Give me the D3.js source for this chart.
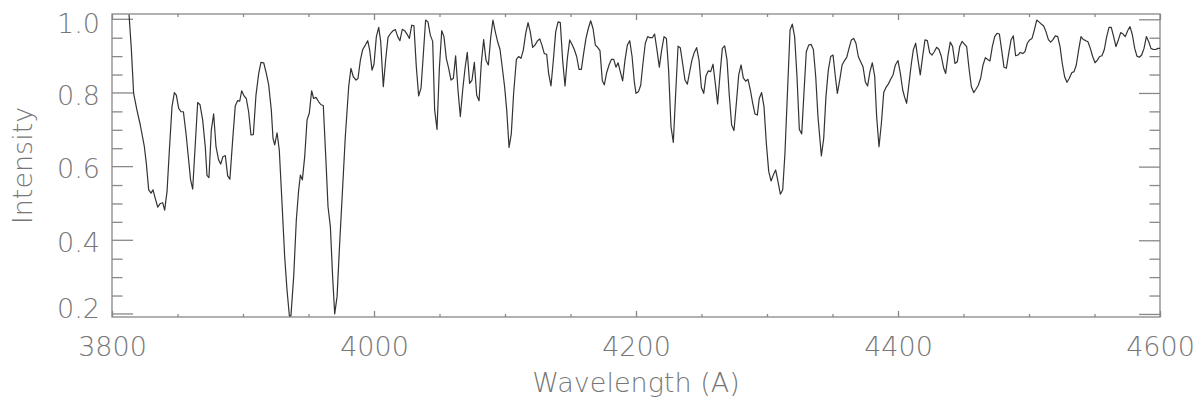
<!DOCTYPE html>
<html>
<head>
<meta charset="utf-8">
<script src="https://cdn.jsdelivr.net/npm/d3@7"></script>
<style>
	body { margin: 0; background: #fff; }
	svg { display: block; }
	.axis text { font-family: "DejaVu Sans", sans-serif; font-weight: 200; font-size: 27px; fill: #777; }
	.axis line { stroke: #888; stroke-width: 1.3; }
	.axis path { display: none; }
	.title { font-family: "DejaVu Sans", sans-serif; font-weight: 200; font-size: 27px; fill: #777; }
</style>
</head>
<body>
<svg id="spec-plot" width="1203" height="404"></svg>
<script>
// wavelength (A)
const wavelength = [
	3813, 3814.8, 3816.5, 3819, 3821.6, 3824.7, 3826.2, 3828, 3829.8, 3831.3, 3833, 3834.9, 3836.9, 3838.7, 3840.2,
	3842, 3843.8, 3845.8, 3847.6, 3849.1, 3850.9, 3852.7, 3854.5, 3856.5, 3858.5, 3860, 3861.6, 3863.6, 3865.4,
	3867.2, 3869.2, 3871.2, 3872.5, 3874, 3875.8, 3877.6, 3879.4, 3881.4, 3883, 3884.7, 3886.5, 3888.3, 3890,
	3892.1, 3894.1, 3895.9, 3897.5, 3899, 3900.8, 3902.5, 3904.3, 3906.1, 3907.9, 3909.9, 3912, 3913.7, 3915.8,
	3917.8, 3919.6, 3921.6, 3922.9, 3924.2, 3926, 3927.7, 3929.8, 3931.8, 3933.6, 3935.4, 3936.6, 3938.7, 3940.7,
	3942.5, 3943.8, 3945.3, 3947.1, 3948.9, 3950.6, 3952.4, 3953.9, 3955.7, 3957.8, 3959.5, 3961.3, 3963.4, 3964.9,
	3966.7, 3968.4, 3970, 3971.8, 3973.8, 3976.1, 3978.1, 3980.7, 3982.4, 3984.2, 3986.3, 3987.8, 3989.6, 3991.4,
	3993.4, 3995.2, 3996.7, 3998.5, 4000,
	4001.8, 4003.6, 4005.1, 4007.1, 4008.9, 4010.7, 4012.7, 4014.5, 4016.3, 4018.1, 4019.8, 4021.6, 4023.4, 4025.2,
	4027, 4028.8, 4030.5, 4032.3, 4034.1, 4035.9, 4037.7, 4039.4, 4041.2, 4043, 4044.8, 4046.3, 4048.1, 4049.9,
	4051.7, 4053.4, 4055.2, 4057, 4058.8, 4060.6, 4062.3, 4064.1, 4065.9, 4067.7, 4069.5, 4071.2, 4073, 4074.8,
	4076.6, 4078.4, 4080.2, 4081.9, 4083.7, 4085.5, 4087.3, 4089.1, 4090.8, 4092.6, 4094.4, 4096.2, 4098, 4099.7,
	4101.3, 4103.1, 4104.8, 4106.6, 4108.7, 4110.4, 4112.2, 4114, 4115.8, 4117.6, 4119.3, 4121.1, 4122.9, 4124.7,
	4126.5, 4128.2, 4130, 4131.8, 4133.3, 4135.1, 4136.9, 4138.7, 4140.5, 4142.2, 4144, 4145.8, 4147.6, 4149.4,
	4151.1, 4152.9, 4154.7, 4156.5, 4158.3, 4160, 4161.8, 4163.6, 4165.4, 4167.2, 4169, 4170.7, 4172.5, 4174.3,
	4175.8, 4177.6, 4179.4, 4181.2, 4183, 4184.7, 4186.3, 4188, 4189.8, 4191.6, 4193.4, 4195.2, 4197, 4198.7, 4200,
	4201.8, 4203.6, 4205.3, 4207.1, 4208.9, 4210.7, 4212.5, 4214.2, 4216, 4217.8, 4219.6, 4221.4, 4223.2, 4224.9,
	4226.7, 4228.5, 4230.3, 4232.1, 4233.8, 4235.6, 4237.4, 4239.2, 4241, 4242.7, 4244.5, 4246.3, 4248.1, 4249.9,
	4251.7, 4253.4, 4255.2, 4257, 4258.8, 4260.6, 4262.3, 4264.1, 4265.9, 4267.7, 4269.5, 4271.2, 4273, 4274.8,
	4276.6, 4278.4, 4280.2, 4281.9, 4283.7, 4285.5, 4287.3, 4289.1, 4290.8, 4292.6, 4294.1, 4295.9, 4297.7, 4299.5,
	4301.3, 4303.1, 4304.8, 4306.6, 4308.4, 4310.2, 4312, 4313.7, 4315.8, 4317.6, 4319.3, 4321.1, 4322.9, 4324.7,
	4326.5, 4328.2, 4330, 4331.8, 4333.6, 4335.4, 4337.2, 4338.9, 4341.5, 4343.3, 4345, 4346.8, 4348.6, 4350.4,
	4352.2, 4353.7, 4355.5, 4357.3, 4359, 4360.8, 4362.6, 4364.4, 4366.2, 4367.9, 4369.7, 4371.5, 4373.3, 4375.1,
	4376.8, 4378.6, 4380.4, 4382.2, 4383.7, 4385.5, 4387.3, 4389.1, 4390.8, 4392.6, 4394.4, 4396.2, 4398, 4400,
	4401.8, 4403.6, 4405.1, 4406.6, 4408.4, 4410.2, 4411.7, 4413.5, 4415.3, 4417, 4418.8, 4420.6, 4422.4, 4424.2,
	4426, 4427.7, 4429.5, 4431.3, 4433.1, 4434.9, 4436.4, 4438.2, 4439.9, 4441.7, 4443.5, 4445.3, 4447.1, 4448.9,
	4450.6, 4452.4, 4454.2, 4456, 4457.8, 4459.5, 4461.3, 4463.1, 4464.9, 4466.7, 4468.4, 4470.2, 4472, 4473.8,
	4475.6, 4477.4, 4479.1, 4480.9, 4482.7, 4484.5, 4486.3, 4488, 4489.8, 4491.6, 4493.4, 4495.2, 4496.9, 4498.7,
	4500.5, 4502.3, 4504.1, 4505.9, 4507.6, 4509.4, 4511.2, 4513, 4514.8, 4516.5, 4518.3, 4520.1, 4521.9, 4523.7,
	4525.4, 4527.2, 4529, 4530.8, 4532.6, 4534.4, 4536.1, 4537.9, 4539.7, 4541.5, 4543.3, 4545, 4546.8, 4548.6,
	4550.4, 4552.2, 4553.9, 4555.7, 4557.5, 4559.3, 4561.1, 4562.8, 4564.6, 4566.4, 4568.2, 4570, 4571.8, 4573.5,
	4575.3, 4577.1, 4578.9, 4580.7, 4582.4, 4584.2, 4586, 4587.8, 4589.6, 4591.4, 4593.1, 4594.9, 4596.7, 4598.5, 4600
];

// normalised intensity at each wavelength
const intensity = [
	1.013, 0.917, 0.799, 0.754, 0.713, 0.654, 0.609, 0.537, 0.528, 0.537, 0.514, 0.490, 0.500, 0.502, 0.482,
	0.532, 0.645, 0.763, 0.801, 0.794, 0.758, 0.749, 0.749, 0.690, 0.618, 0.564, 0.539, 0.663, 0.774,
	0.768, 0.727, 0.654, 0.576, 0.570, 0.699, 0.743, 0.654, 0.618, 0.607, 0.627, 0.630, 0.575, 0.566,
	0.672, 0.765, 0.779, 0.778, 0.806, 0.792, 0.785, 0.749, 0.686, 0.687, 0.794, 0.853, 0.883, 0.882,
	0.853, 0.822, 0.754, 0.677, 0.659, 0.692, 0.645, 0.500, 0.356, 0.265, 0.195, 0.195, 0.302, 0.455,
	0.537, 0.577, 0.564, 0.627, 0.727, 0.745, 0.806, 0.785, 0.788, 0.776, 0.768, 0.766, 0.609, 0.491,
	0.437, 0.302, 0.200, 0.247, 0.392, 0.546, 0.682, 0.818, 0.867, 0.844, 0.835, 0.840, 0.889, 0.918,
	0.930, 0.942, 0.917, 0.862, 0.878,
	0.953, 0.978, 0.940, 0.817, 0.890, 0.951, 0.962, 0.969, 0.972, 0.953, 0.942, 0.973, 0.969, 0.960,
	0.948, 0.984, 0.982, 0.871, 0.792, 0.813, 0.907, 0.998, 0.993, 0.957, 0.940, 0.754, 0.701, 0.867,
	0.969, 0.953, 0.894, 0.867, 0.835, 0.840, 0.901, 0.808, 0.736, 0.808, 0.867, 0.910, 0.826, 0.835,
	0.883, 0.794, 0.779, 0.880, 0.945, 0.889, 0.876, 0.951, 0.998, 0.966, 0.939, 0.918, 0.867, 0.817,
	0.754, 0.652, 0.689, 0.800, 0.891, 0.899, 0.894, 0.917, 0.962, 0.991, 0.966, 0.924, 0.930, 0.941,
	0.947, 0.930, 0.907, 0.905, 0.853, 0.819, 0.889, 0.966, 0.993, 0.991, 0.889, 0.819, 0.894, 0.944,
	0.932, 0.918, 0.899, 0.864, 0.864, 0.907, 0.948, 0.975, 0.996, 0.975, 0.930, 0.924, 0.915, 0.833,
	0.822, 0.855, 0.876, 0.891, 0.891, 0.870, 0.882, 0.858, 0.833, 0.889, 0.930, 0.942, 0.899, 0.831, 0.799,
	0.803, 0.821, 0.880, 0.935, 0.953, 0.950, 0.950, 0.960, 0.917, 0.870, 0.917, 0.953, 0.948, 0.862,
	0.709, 0.666, 0.800, 0.927, 0.923, 0.880, 0.835, 0.824, 0.858, 0.889, 0.910, 0.923, 0.889, 0.815,
	0.799, 0.846, 0.860, 0.858, 0.878, 0.824, 0.770, 0.849, 0.921, 0.928, 0.889, 0.794, 0.713, 0.698,
	0.772, 0.849, 0.876, 0.841, 0.832, 0.837, 0.808, 0.772, 0.743, 0.740, 0.785, 0.801, 0.763, 0.663,
	0.587, 0.561, 0.577, 0.591, 0.559, 0.525, 0.537, 0.636, 0.817, 0.971, 0.987, 0.953, 0.844, 0.701,
	0.689, 0.799, 0.912, 0.930, 0.932, 0.918, 0.844, 0.736, 0.629, 0.677, 0.790, 0.862, 0.899, 0.903,
	0.844, 0.799, 0.835, 0.876, 0.887, 0.896, 0.921, 0.944, 0.948, 0.935, 0.899, 0.885, 0.871, 0.830,
	0.819, 0.858, 0.882, 0.846, 0.736, 0.654, 0.717, 0.801, 0.815, 0.824, 0.837, 0.849, 0.876, 0.888,
	0.853, 0.808, 0.788, 0.772, 0.826, 0.880, 0.917, 0.935, 0.889, 0.849, 0.899, 0.944, 0.942, 0.909,
	0.903, 0.912, 0.924, 0.918, 0.899, 0.867, 0.853, 0.903, 0.938, 0.926, 0.880, 0.885, 0.926, 0.940,
	0.933, 0.926, 0.867, 0.817, 0.801, 0.810, 0.821, 0.840, 0.876, 0.896, 0.891, 0.887, 0.926, 0.953,
	0.962, 0.960, 0.917, 0.870, 0.867, 0.907, 0.944, 0.955, 0.901, 0.903, 0.910, 0.907, 0.912, 0.935,
	0.944, 0.948, 0.971, 0.998, 0.993, 0.987, 0.982, 0.966, 0.945, 0.938, 0.945, 0.955, 0.953, 0.926,
	0.880, 0.844, 0.829, 0.840, 0.855, 0.858, 0.876, 0.917, 0.953, 0.945, 0.942, 0.939, 0.921, 0.899,
	0.882, 0.889, 0.899, 0.901, 0.918, 0.953, 0.978, 0.978, 0.953, 0.926, 0.944, 0.964, 0.960, 0.953,
	0.969, 0.980, 0.958, 0.921, 0.900, 0.897, 0.903, 0.921, 0.953, 0.939, 0.921, 0.918, 0.918, 0.921, 0.921
];

const xMajorTicks = [3800, 4000, 4200, 4400, 4600];
const yMajorTicks = [0.2, 0.4, 0.6, 0.8, 1.0];

const xRange = [3800, 4600];
const yRange = [0.1917, 1.0144];

class SpectrumPlot {
	constructor(svg_element_id) {
		this.svg = d3.select('#' + svg_element_id);

		// plot box in pixels
		const left = 112, right = 1160, top = 14, bottom = 317;

		const x = d3.scaleLinear().domain(xRange).range([left, right]);
		const y = d3.scaleLinear().domain(yRange).range([bottom, top]);

		const xMinor = d3.range(xRange[0], xRange[1] + 1, 50).filter(v => v % 200 != 0);
		const yMinor = d3.range(0.25, 1.0, 0.05).filter(v => Math.abs(v * 5 - Math.round(v * 5)) > 0.01);

		// bottom + top axis, ticks pointing inwards
		this.svg.append("g").attr("class", "axis")
			.attr("transform", "translate(0," + bottom + ")")
			.call(d3.axisBottom(x).tickValues(xMajorTicks).tickSize(-6).tickPadding(20).tickFormat(d3.format("d")));
		this.svg.append("g").attr("class", "axis")
			.attr("transform", "translate(0," + bottom + ")")
			.call(d3.axisBottom(x).tickValues(xMinor).tickSize(-3).tickFormat(""));
		this.svg.append("g").attr("class", "axis")
			.attr("transform", "translate(0," + top + ")")
			.call(d3.axisTop(x).tickValues(xMajorTicks).tickSize(-6).tickFormat(""));
		this.svg.append("g").attr("class", "axis")
			.attr("transform", "translate(0," + top + ")")
			.call(d3.axisTop(x).tickValues(xMinor).tickSize(-3).tickFormat(""));

		// left + right axis
		const yLeft = this.svg.append("g").attr("class", "axis")
			.attr("transform", "translate(" + left + ",0)")
			.call(d3.axisLeft(y).tickValues(yMajorTicks).tickSize(-21).tickPadding(12).tickFormat(d3.format(".1f")));
		this.svg.append("g").attr("class", "axis")
			.attr("transform", "translate(" + left + ",0)")
			.call(d3.axisLeft(y).tickValues(yMinor).tickSize(-10.5).tickFormat(""));
		this.svg.append("g").attr("class", "axis")
			.attr("transform", "translate(" + right + ",0)")
			.call(d3.axisRight(y).tickValues(yMajorTicks).tickSize(-21).tickFormat(""));
		this.svg.append("g").attr("class", "axis")
			.attr("transform", "translate(" + right + ",0)")
			.call(d3.axisRight(y).tickValues(yMinor).tickSize(-10.5).tickFormat(""));

		// keep the end labels inside the box, like the original
		yLeft.selectAll(".tick")
			.attr("transform", (d) => "translate(0," + Math.max(top + 10, Math.min(bottom - 8, y(d) + 3)) + ")")
			.select("line")
			.attr("transform", (d) => "translate(0," + (y(d) - Math.max(top + 10, Math.min(bottom - 8, y(d) + 3))) + ")");

		// frame
		this.svg.append("rect")
			.attr("x", left).attr("y", top)
			.attr("width", right - left).attr("height", bottom - top)
			.attr("fill", "none").attr("stroke", "#888").attr("stroke-width", 1.3);

		this.svg.append("clipPath").attr("id", "box")
			.append("rect").attr("x", left).attr("y", top)
			.attr("width", right - left).attr("height", bottom - top);

		const points = wavelength.map((w, i) => [w, intensity[i]]);
		const line = d3.line().x(d => x(d[0])).y(d => y(d[1]));

		this.svg.append("path")
			.datum(points)
			.attr("clip-path", "url(#box)")
			.attr("d", line)
			.attr("fill", "none")
			.attr("stroke", "#333")
			.attr("stroke-width", 1.2)
			.attr("stroke-linejoin", "round");

		// axis titles
		this.svg.append("text").attr("class", "title")
			.attr("x", (left + right) / 2).attr("y", 392)
			.attr("text-anchor", "middle")
			.text("Wavelength (A)");
		this.svg.append("text").attr("class", "title")
			.attr("transform", "translate(32," + ((top + bottom) / 2) + ") rotate(-90)")
			.attr("text-anchor", "middle")
			.text("Intensity");
	}
}

const plot_object = new SpectrumPlot('spec-plot');
</script>
</body>
</html>
